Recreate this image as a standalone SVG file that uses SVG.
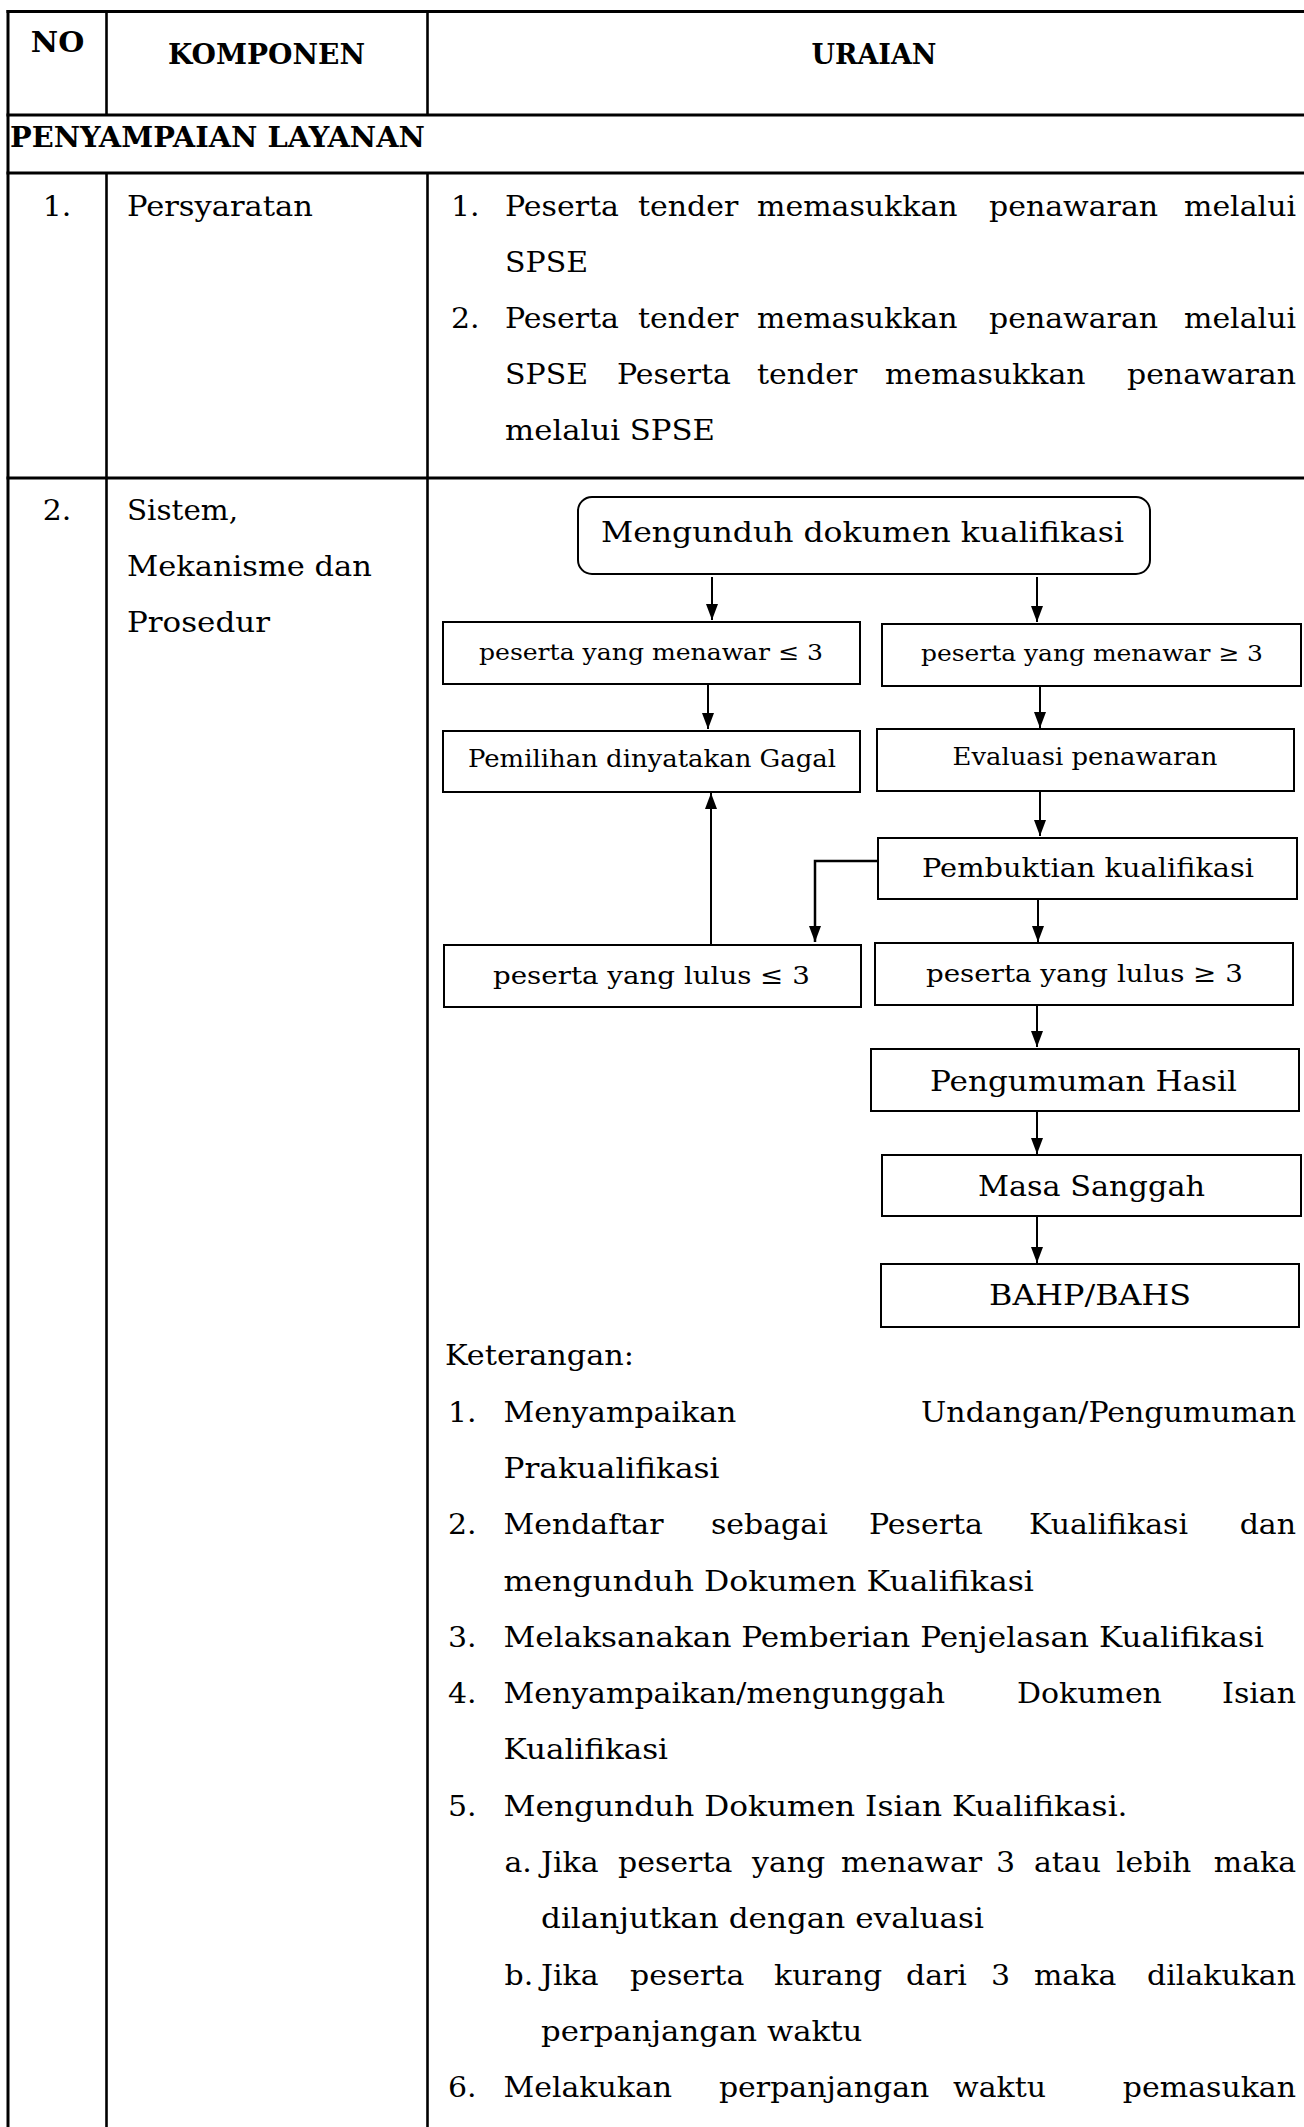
<svg xmlns="http://www.w3.org/2000/svg" width="1304" height="2127" viewBox="0 0 1304 2127">
  <style>
    text { font-family: "DejaVu Serif", "Liberation Serif", serif; fill: #000; }
    .b { font-size: 27px; }
    .h { font-size: 27px; font-weight: bold; }
    .rule { stroke: #000; stroke-width: 3; fill: none; }
    .col { stroke: #000; stroke-width: 2.6; fill: none; }
    .box { fill: #fff; stroke: #000; stroke-width: 2; }
    .link { stroke: #000; stroke-width: 2; fill: none; marker-end: url(#ah); }
  </style>
  <defs>
    <marker id="ah" viewBox="0 0 16 12" refX="16" refY="6" markerWidth="16" markerHeight="12" markerUnits="userSpaceOnUse" orient="auto">
      <path d="M0,0 L16,6 L0,12 z" fill="#000"/>
    </marker>
  </defs>
  <rect width="1304" height="2127" fill="#fff"/>

  <!-- table grid -->
  <g id="table">
    <line class="rule" x1="6.5" y1="11.5" x2="1304" y2="11.5"/>
    <line class="rule" x1="8" y1="10" x2="8" y2="2127"/>
    <line class="col" x1="106.5" y1="10" x2="106.5" y2="115"/>
    <line class="col" x1="427.5" y1="10" x2="427.5" y2="115"/>
    <line class="col" x1="106.5" y1="173" x2="106.5" y2="2127"/>
    <line class="col" x1="427.5" y1="173" x2="427.5" y2="2127"/>
    <line class="rule" x1="6.5" y1="115" x2="1304" y2="115"/>
    <line class="rule" x1="6.5" y1="173" x2="1304" y2="173"/>
    <line class="rule" x1="6.5" y1="478" x2="1304" y2="478"/>
  </g>

  <!-- header row and section title (text widened 1.11x) -->
  <g id="header" transform="scale(1.11 1)">
    <text class="h" x="51.8" y="52.5" text-anchor="middle">NO</text>
    <text class="h" x="240.1" y="64.5" text-anchor="middle" textLength="177.5" lengthAdjust="spacingAndGlyphs">KOMPONEN</text>
    <text class="h" x="787.4" y="64.5" text-anchor="middle" textLength="112.6" lengthAdjust="spacingAndGlyphs">URAIAN</text>
    <text class="h" x="9" y="146.7" textLength="373.9" lengthAdjust="spacingAndGlyphs">PENYAMPAIAN LAYANAN</text>
  </g>

  <!-- row 1: Persyaratan -->
  <g id="row1" transform="scale(1.11 1)">
    <text class="b" x="51.4" y="216.5" text-anchor="middle">1.</text>
    <text class="b" x="114.4" y="216.5" textLength="167.6" lengthAdjust="spacingAndGlyphs">Persyaratan</text>

    <text class="b" y="216.5"><tspan x="406.3">1.</tspan><tspan x="455">Peserta</tspan><tspan x="574.8">tender</tspan><tspan x="682">memasukkan</tspan><tspan x="891">penawaran</tspan></text>
    <text class="b" x="1167.6" y="216.5" text-anchor="end">melalui</text>
    <text class="b" x="455" y="272.3">SPSE</text>

    <text class="b" y="328.1"><tspan x="406.3">2.</tspan><tspan x="455">Peserta</tspan><tspan x="574.8">tender</tspan><tspan x="682">memasukkan</tspan><tspan x="891">penawaran</tspan></text>
    <text class="b" x="1167.6" y="328.1" text-anchor="end">melalui</text>
    <text class="b" y="383.9"><tspan x="455">SPSE</tspan><tspan x="555.9">Peserta</tspan><tspan x="682">tender</tspan><tspan x="797.3">memasukkan</tspan></text>
    <text class="b" x="1167.6" y="383.9" text-anchor="end">penawaran</text>
    <text class="b" x="455" y="439.7" textLength="189.2" lengthAdjust="spacingAndGlyphs">melalui SPSE</text>
  </g>

  <!-- row 2: Sistem, Mekanisme dan Prosedur -->
  <g id="row2" transform="scale(1.11 1)">
    <text class="b" x="51.4" y="520.5" text-anchor="middle">2.</text>
    <text class="b" x="114.4" y="520.5" textLength="100" lengthAdjust="spacingAndGlyphs">Sistem,</text>
    <text class="b" x="114.4" y="576.3" textLength="220.7" lengthAdjust="spacingAndGlyphs">Mekanisme dan</text>
    <text class="b" x="114.4" y="632.1" textLength="128.8" lengthAdjust="spacingAndGlyphs">Prosedur</text>
  </g>

  <!-- flowchart connectors -->
  <g id="connectors">
    <line class="link" x1="712" y1="577" x2="712" y2="620"/>
    <line class="link" x1="1037" y1="577" x2="1037" y2="622"/>
    <line class="link" x1="708" y1="685" x2="708" y2="729"/>
    <line class="link" x1="1040" y1="687" x2="1040" y2="728"/>
    <line class="link" x1="1040" y1="792" x2="1040" y2="836"/>
    <path class="link" style="stroke-width:2.5" d="M879,861 H815 V942"/>
    <line class="link" x1="711" y1="946" x2="711" y2="793"/>
    <line class="link" x1="1038" y1="900" x2="1038" y2="942"/>
    <line class="link" x1="1037" y1="1005" x2="1037" y2="1047"/>
    <line class="link" x1="1037" y1="1112" x2="1037" y2="1154"/>
    <line class="link" x1="1037" y1="1217" x2="1037" y2="1263"/>
  </g>

  <!-- flowchart nodes -->
  <g id="n-unduh">
    <rect class="box" x="578" y="497" width="572" height="77" rx="14" ry="14"/>
    <text class="b" transform="scale(1.11 1)" x="777" y="542" text-anchor="middle" textLength="471.2" lengthAdjust="spacingAndGlyphs">Mengunduh dokumen kualifikasi</text>
  </g>
  <g id="n-menawar-kurang">
    <rect class="box" x="443" y="622" width="417" height="62"/>
    <text class="b" style="font-size:23px" transform="scale(1.11 1)" x="586.5" y="660" text-anchor="middle" textLength="309.9" lengthAdjust="spacingAndGlyphs">peserta yang menawar ≤ 3</text>
  </g>
  <g id="n-menawar-lebih">
    <rect class="box" x="882" y="624" width="419" height="62"/>
    <text class="b" style="font-size:23px" transform="scale(1.11 1)" x="983.8" y="661" text-anchor="middle" textLength="308.1" lengthAdjust="spacingAndGlyphs">peserta yang menawar ≥ 3</text>
  </g>
  <g id="n-gagal">
    <rect class="box" x="443" y="731" width="417" height="61"/>
    <text class="b" style="font-size:23.5px" transform="scale(1.11 1)" x="587.4" y="767" text-anchor="middle" textLength="331.5" lengthAdjust="spacingAndGlyphs">Pemilihan dinyatakan Gagal</text>
  </g>
  <g id="n-evaluasi">
    <rect class="box" x="877" y="729" width="417" height="62"/>
    <text class="b" style="font-size:23.5px" transform="scale(1.11 1)" x="977.5" y="765" text-anchor="middle" textLength="238.7" lengthAdjust="spacingAndGlyphs">Evaluasi penawaran</text>
  </g>
  <g id="n-pembuktian">
    <rect class="box" x="878" y="838" width="419" height="61"/>
    <text class="b" style="font-size:25.5px" transform="scale(1.11 1)" x="980.2" y="877" text-anchor="middle" textLength="299.1" lengthAdjust="spacingAndGlyphs">Pembuktian kualifikasi</text>
  </g>
  <g id="n-lulus-kurang">
    <rect class="box" x="444" y="945" width="417" height="62"/>
    <text class="b" style="font-size:25px" transform="scale(1.11 1)" x="586.9" y="984" text-anchor="middle" textLength="285.6" lengthAdjust="spacingAndGlyphs">peserta yang lulus ≤ 3</text>
  </g>
  <g id="n-lulus-lebih">
    <rect class="box" x="875" y="943" width="418" height="62"/>
    <text class="b" style="font-size:25px" transform="scale(1.11 1)" x="977" y="982" text-anchor="middle" textLength="285.6" lengthAdjust="spacingAndGlyphs">peserta yang lulus ≥ 3</text>
  </g>
  <g id="n-pengumuman">
    <rect class="box" x="871" y="1049" width="428" height="62"/>
    <text class="b" style="font-size:27.5px" transform="scale(1.11 1)" x="976.1" y="1091" text-anchor="middle" textLength="276.6" lengthAdjust="spacingAndGlyphs">Pengumuman Hasil</text>
  </g>
  <g id="n-sanggah">
    <rect class="box" x="882" y="1155" width="419" height="61"/>
    <text class="b" style="font-size:27.5px" transform="scale(1.11 1)" x="983.3" y="1196" text-anchor="middle" textLength="204.5" lengthAdjust="spacingAndGlyphs">Masa Sanggah</text>
  </g>
  <g id="n-bahp">
    <rect class="box" x="881" y="1264" width="418" height="63"/>
    <text class="b" style="font-size:27.5px" transform="scale(1.11 1)" x="982" y="1305" text-anchor="middle" textLength="182" lengthAdjust="spacingAndGlyphs">BAHP/BAHS</text>
  </g>

  <!-- notes below the flowchart -->
  <g id="keterangan" transform="scale(1.11 1)">
    <text class="b" x="400.9" y="1365.4" textLength="170.3" lengthAdjust="spacingAndGlyphs">Keterangan:</text>

    <text class="b" y="1421.7"><tspan x="403.6">1.</tspan><tspan x="453.6">Menyampaikan</tspan></text>
    <text class="b" x="1167.6" y="1421.7" text-anchor="end">Undangan/Pengumuman</text>
    <text class="b" x="453.6" y="1478" textLength="194.6" lengthAdjust="spacingAndGlyphs">Prakualifikasi</text>

    <text class="b" y="1534.3"><tspan x="403.6">2.</tspan><tspan x="453.6">Mendaftar</tspan><tspan x="640.5">sebagai</tspan><tspan x="782.9">Peserta</tspan><tspan x="927">Kualifikasi</tspan></text>
    <text class="b" x="1167.6" y="1534.3" text-anchor="end">dan</text>
    <text class="b" x="453.6" y="1590.6" textLength="477.9" lengthAdjust="spacingAndGlyphs">mengunduh Dokumen Kualifikasi</text>

    <text class="b" x="403.6" y="1646.9">3.</text>
    <text class="b" x="453.6" y="1646.9" textLength="685.1" lengthAdjust="spacingAndGlyphs">Melaksanakan Pemberian Penjelasan Kualifikasi</text>

    <text class="b" y="1703.2"><tspan x="403.6">4.</tspan><tspan x="453.6">Menyampaikan/mengunggah</tspan><tspan x="916.2">Dokumen</tspan></text>
    <text class="b" x="1167.6" y="1703.2" text-anchor="end">Isian</text>
    <text class="b" x="453.6" y="1759.5" textLength="148.2" lengthAdjust="spacingAndGlyphs">Kualifikasi</text>

    <text class="b" x="403.6" y="1815.8">5.</text>
    <text class="b" x="453.6" y="1815.8" textLength="562.2" lengthAdjust="spacingAndGlyphs">Mengunduh Dokumen Isian Kualifikasi.</text>

    <text class="b" y="1872.1"><tspan x="454.5">a.</tspan><tspan x="487.4">Jika</tspan><tspan x="556.8">peserta</tspan><tspan x="677.5">yang</tspan><tspan x="757.7">menawar</tspan><tspan x="897.3">3</tspan><tspan x="931.5">atau</tspan><tspan x="1005.4">lebih</tspan></text>
    <text class="b" x="1167.6" y="1872.1" text-anchor="end">maka</text>
    <text class="b" x="487.4" y="1928.4" textLength="399.1" lengthAdjust="spacingAndGlyphs">dilanjutkan dengan evaluasi</text>

    <text class="b" y="1984.7"><tspan x="454.5">b.</tspan><tspan x="487.4">Jika</tspan><tspan x="567.6">peserta</tspan><tspan x="697.3">kurang</tspan><tspan x="816.2">dari</tspan><tspan x="892.8">3</tspan><tspan x="931.5">maka</tspan></text>
    <text class="b" x="1167.6" y="1984.7" text-anchor="end">dilakukan</text>
    <text class="b" x="487.4" y="2041" textLength="289.6" lengthAdjust="spacingAndGlyphs">perpanjangan waktu</text>

    <text class="b" y="2097.3"><tspan x="403.6">6.</tspan><tspan x="453.6">Melakukan</tspan><tspan x="647.7">perpanjangan</tspan><tspan x="858.6">waktu</tspan></text>
    <text class="b" x="1167.6" y="2097.3" text-anchor="end">pemasukan</text>
  </g>
</svg>
